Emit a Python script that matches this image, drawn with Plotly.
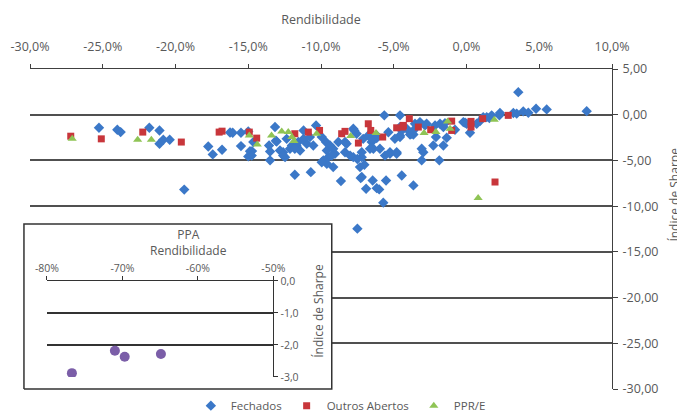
import plotly.graph_objects as go

# ---------------- data ----------------
fech_x = [-25.26, -24.0, -23.77, -21.8, -21.1, -21.1, -20.84, -20.4, -17.75, -17.44,
          -16.8, -19.4, -16.25, -16.07, -15.5, -15.5, -14.74, -15.0, -14.65, -13.57,
          -13.5, -13.5, -13.16, -13.1, -12.6, -12.47, -12.13, -12.0, -11.67, -11.44,
          -10.98, -10.34, -9.95, -9.66, -9.38, -9.6, -9.16, -9.04, -9.5, -9.84,
          -9.6, -11.8, -10.7, -8.63, -8.24, -8.35, -7.71, -7.55, -7.78, -7.2,
          -7.32, -7.02, -7.2, -6.9, -7.5, -7.1, -6.75, -6.52, -6.4, -6.17,
          -6.45, -6.0, -5.53, -5.72, -5.65, -4.45, -3.65, -4.57, -4.57, -5.26,
          -4.8, 3.56, 4.78, 5.51, 8.26, 3.9, 4.25, 3.45, 2.26, 1.57,
          0.93, 0.7, -0.1, 0.24, -0.79, -1.59, -2.16, -2.74, -2.1, -1.36,
          -2.28, -1.59, -3.08, -2.97, -3.08, -1.87, -3.65, -3.88, -4.57, -12.36,
          -11.8, -11.56, -11.2, -10.76, -10.53, -9.26, -9.16, -9.95, -8.81, -8.35,
          -8.0, -7.5, -7.2, -6.63, -6.52, -5.95, -5.6, -5.26, -4.8, -7.27,
          -6.17, -15.0, -14.88, -14.76, -13.05, -12.82, -12.6, -11.2, -7.78, -6.17,
          -5.37, -4.92, -4.57, -4.45, -4.11, -3.77, -3.65, -3.54, -3.2, -2.85,
          -1.82, -1.48, -0.22, 0.01, 1.15, 1.39, 1.73, 2.3, 3.22]
fech_y = [-1.43, -1.65, -1.9, -1.43, -1.72, -3.18, -2.74, -2.74, -3.47, -4.34,
          -3.83, -8.19, -1.94, -1.97, -1.97, -3.43, -3.98, -4.56, -2.99, -3.36,
          -4.02, -4.99, -1.35, -2.84, -4.1, -4.64, -3.73, -3.36, -3.43, -3.91,
          -3.17, -1.17, -2.44, -2.99, -3.36, -3.91, -3.73, -4.27, -4.64, -4.99,
          -5.36, -6.57, -6.28, -7.26, -3.17, -4.1, -1.72, -2.08, -4.64, -4.64,
          -5.73, -5.47, -6.82, -8.09, -12.46, -2.64, -2.27, -2.99, -3.73, -2.56,
          -7.19, -8.17, -7.19, -9.62, -0.07, -6.64, -7.73, -0.07, -2.44, -4.27,
          -4.27, 2.47, 0.66, 0.58, 0.39, 0.36, 0.22, 0.12, -0.07, -0.37,
          -0.7, -0.99, -0.88, -1.97, -1.64, -1.35, -1.17, -0.99, -2.44, -2.52,
          -3.36, -3.36, -3.73, -4.1, -4.99, -4.99, -2.16, -2.16, -2.27, -2.64,
          -3.73, -2.99, -2.64, -2.44, -3.36, -4.47, -5.73, -5.2, -2.99, -2.99,
          -4.47, -4.84, -4.1, -3.73, -2.63, -3.73, -4.47, -4.1, -4.1, -6.93,
          -8.03, -1.83, -4.0, -4.47, -2.93, -3.91, -4.47, -1.72, -1.53, -2.27,
          -1.91, -2.63, -1.35, -1.72, -1.53, -2.08, -1.72, -0.99, -0.81, -1.17,
          -0.99, -0.92, -0.81, -0.99, -0.26, -0.26, -0.07, 0.18, 0.18]

outros_x = [-27.2, -25.1, -22.25, -19.6, -17.0, -16.8, -14.93, -14.42, -11.8, -10.87,
            -10.1, -8.58, -8.35, -7.43, -6.75, -6.58, -5.76, -3.93, -4.38, -4.8,
            2.87, 1.11, 0.31, 0.31, -1.02, -1.02, -2.46, -3.31, -4.34, 1.96]
outros_y = [-2.35, -2.64, -1.9, -2.99, -1.9, -1.8, -1.9, -2.56, -2.08, -1.9,
            -1.72, -2.08, -1.82, -3.1, -0.99, -1.72, -2.44, -0.43, -1.35, -1.43,
            -0.07, -0.43, -0.73, -1.35, -0.7, -1.72, -1.64, -1.35, -1.17, -7.36]

ppr_x = [-27.1, -22.6, -21.66, -14.93, -14.38, -13.4, -12.7, -12.25, -12.0, -11.86,
         -7.96, -6.22, 1.91, -1.3, -1.13, -2.1, -2.92, 0.8, -10.3]
ppr_y = [-2.64, -2.74, -2.74, -2.27, -3.25, -2.27, -1.84, -1.9, -2.44, -2.88,
         -2.33, -2.0, -0.55, -0.73, -1.53, -1.9, -2.0, -9.12, -2.08]

ppa_x = [-76.7, -71.0, -69.7, -64.9]
ppa_y = [-2.88, -2.18, -2.37, -2.28]

x_ticks = [-30, -25, -20, -15, -10, -5, 0, 5, 10]
x_ticktext = ["-30,0%", "-25,0%", "-20,0%", "-15,0%", "-10,0%", "-5,0%", "0,0%", "5,0%", "10,0%"]
y_ticks = [5, 0, -5, -10, -15, -20, -25, -30]
y_ticktext = ["5,00", "0,00", "-5,00", "-10,00", "-15,00", "-20,00", "-25,00", "-30,00"]

ins_x_ticks = [-80, -70, -60, -50]
ins_x_ticktext = ["-80%", "-70%", "-60%", "-50%"]
ins_y_ticks = [0, -1, -2, -3]
ins_y_ticktext = ["0,0", "-1,0", "-2,0", "-3,0"]

box_x = [0, 1, 1, 0, 0]
box_y = [0, 0, 1, 1, 0]

# ---------------- style ----------------
FONT = "Open Sans"
TXT = "#595959"
GRID = "#505050"
BLUE = "#3b78c8"
RED = "#c8363b"
GREEN = "#8fc455"
PURPLE = "#7b5ea8"

fig = go.Figure()

fig.add_trace(go.Scatter(x=fech_x, y=fech_y, mode="markers", name="Fechados",
                         marker=dict(symbol="diamond", size=8, color=BLUE),
                         xaxis="x", yaxis="y"))
fig.add_trace(go.Scatter(x=outros_x, y=outros_y, mode="markers", name="Outros Abertos",
                         marker=dict(symbol="square", size=7, color=RED),
                         xaxis="x", yaxis="y"))
fig.add_trace(go.Scatter(x=ppr_x, y=ppr_y, mode="markers", name="PPR/E",
                         marker=dict(symbol="triangle-up", size=8, color=GREEN),
                         xaxis="x", yaxis="y"))

# white inset box
fig.add_trace(go.Scatter(x=box_x, y=box_y, mode="lines", fill="toself",
                         fillcolor="white", line=dict(color="#333333", width=1.5),
                         showlegend=False, hoverinfo="skip", xaxis="x2", yaxis="y2"))

fig.add_trace(go.Scatter(x=ppa_x, y=ppa_y, mode="markers", name="PPA",
                         marker=dict(symbol="circle", size=10, color=PURPLE),
                         showlegend=False, xaxis="x3", yaxis="y3"))

fig.update_layout(
    width=685, height=413,
    margin=dict(l=12, r=81, t=61, b=28, autoexpand=False),
    paper_bgcolor="white", plot_bgcolor="rgba(0,0,0,0)",
    font=dict(family=FONT, color=TXT, size=12),
    showlegend=True,
    legend=dict(orientation="h", x=0.542, xanchor="center", y=-0.039, yanchor="middle",
                font=dict(size=11.5, color=TXT), itemwidth=30, tracegroupgap=0,
                bgcolor="rgba(0,0,0,0)"),
    xaxis=dict(domain=[0.0169, 1], range=[-30, 10], side="top", anchor="y",
               automargin=False,
               tickmode="array", tickvals=x_ticks, ticktext=x_ticktext,
               tickfont=dict(size=12.5, color=TXT),
               showgrid=False, zeroline=False, showline=True, linecolor="#404040",
               linewidth=1.2, ticks="outside", ticklen=4, tickcolor="#404040",
               ticklabelstandoff=8,
               title=dict(text="Rendibilidade", font=dict(size=12.5, color=TXT), standoff=10)),
    yaxis=dict(domain=[0.0123, 1], range=[-30, 5], side="right", anchor="x",
               automargin=False,
               tickmode="array", tickvals=y_ticks, ticktext=y_ticktext,
               tickfont=dict(size=12.5, color=TXT),
               showgrid=True, gridcolor=GRID, gridwidth=1.5, zeroline=False,
               showline=True, linecolor="#404040", linewidth=1.2,
               ticks="outside", ticklen=5, tickcolor="#404040", ticklabelstandoff=2),
    xaxis2=dict(domain=[0.0046, 0.5287], range=[-0.004, 1.004], anchor="y2",
                visible=False, fixedrange=True, automargin=False),
    yaxis2=dict(domain=[0.0093, 0.5247], range=[-0.006, 1.006], anchor="x2",
                visible=False, fixedrange=True, automargin=False),
    xaxis3=dict(domain=[0.0456, 0.4279], range=[-80, -50], side="top", anchor="y3",
                automargin=False,
                tickmode="array", tickvals=ins_x_ticks, ticktext=ins_x_ticktext,
                showgrid=False, zeroline=False, showline=True, linecolor="#333333",
                linewidth=1.2, ticks="outside", ticklen=4, tickcolor="#333333",
                tickfont=dict(size=10.5, color=TXT)),
    yaxis3=dict(domain=[0.0494, 0.3457], range=[-3, 0], side="right", anchor="x3",
                automargin=False,
                tickmode="array", tickvals=ins_y_ticks, ticktext=ins_y_ticktext,
                showgrid=True, gridcolor="#333333", gridwidth=1.5, zeroline=False,
                showline=True, linecolor="#333333", linewidth=1.2,
                ticks="outside", ticklen=4, tickcolor="#333333",
                tickfont=dict(size=10.5, color=TXT)),
    annotations=[
        dict(text="Índice de Sharpe", xref="paper", yref="paper", x=1.104, y=0.611,
             xanchor="center", yanchor="middle",
             textangle=-90, showarrow=False, font=dict(size=12, color=TXT)),
        dict(text="PPA<br>Rendibilidade", xref="paper", yref="paper", x=0.284, y=0.466,
             xanchor="center", yanchor="middle", align="center",
             showarrow=False, font=dict(size=12, color=TXT)),
        dict(text="Índice de Sharpe", xref="paper", yref="paper", x=0.503, y=0.253,
             xanchor="center", yanchor="middle",
             textangle=-90, showarrow=False, font=dict(size=12, color=TXT)),
    ],
)

fig.write_html("out.html")
